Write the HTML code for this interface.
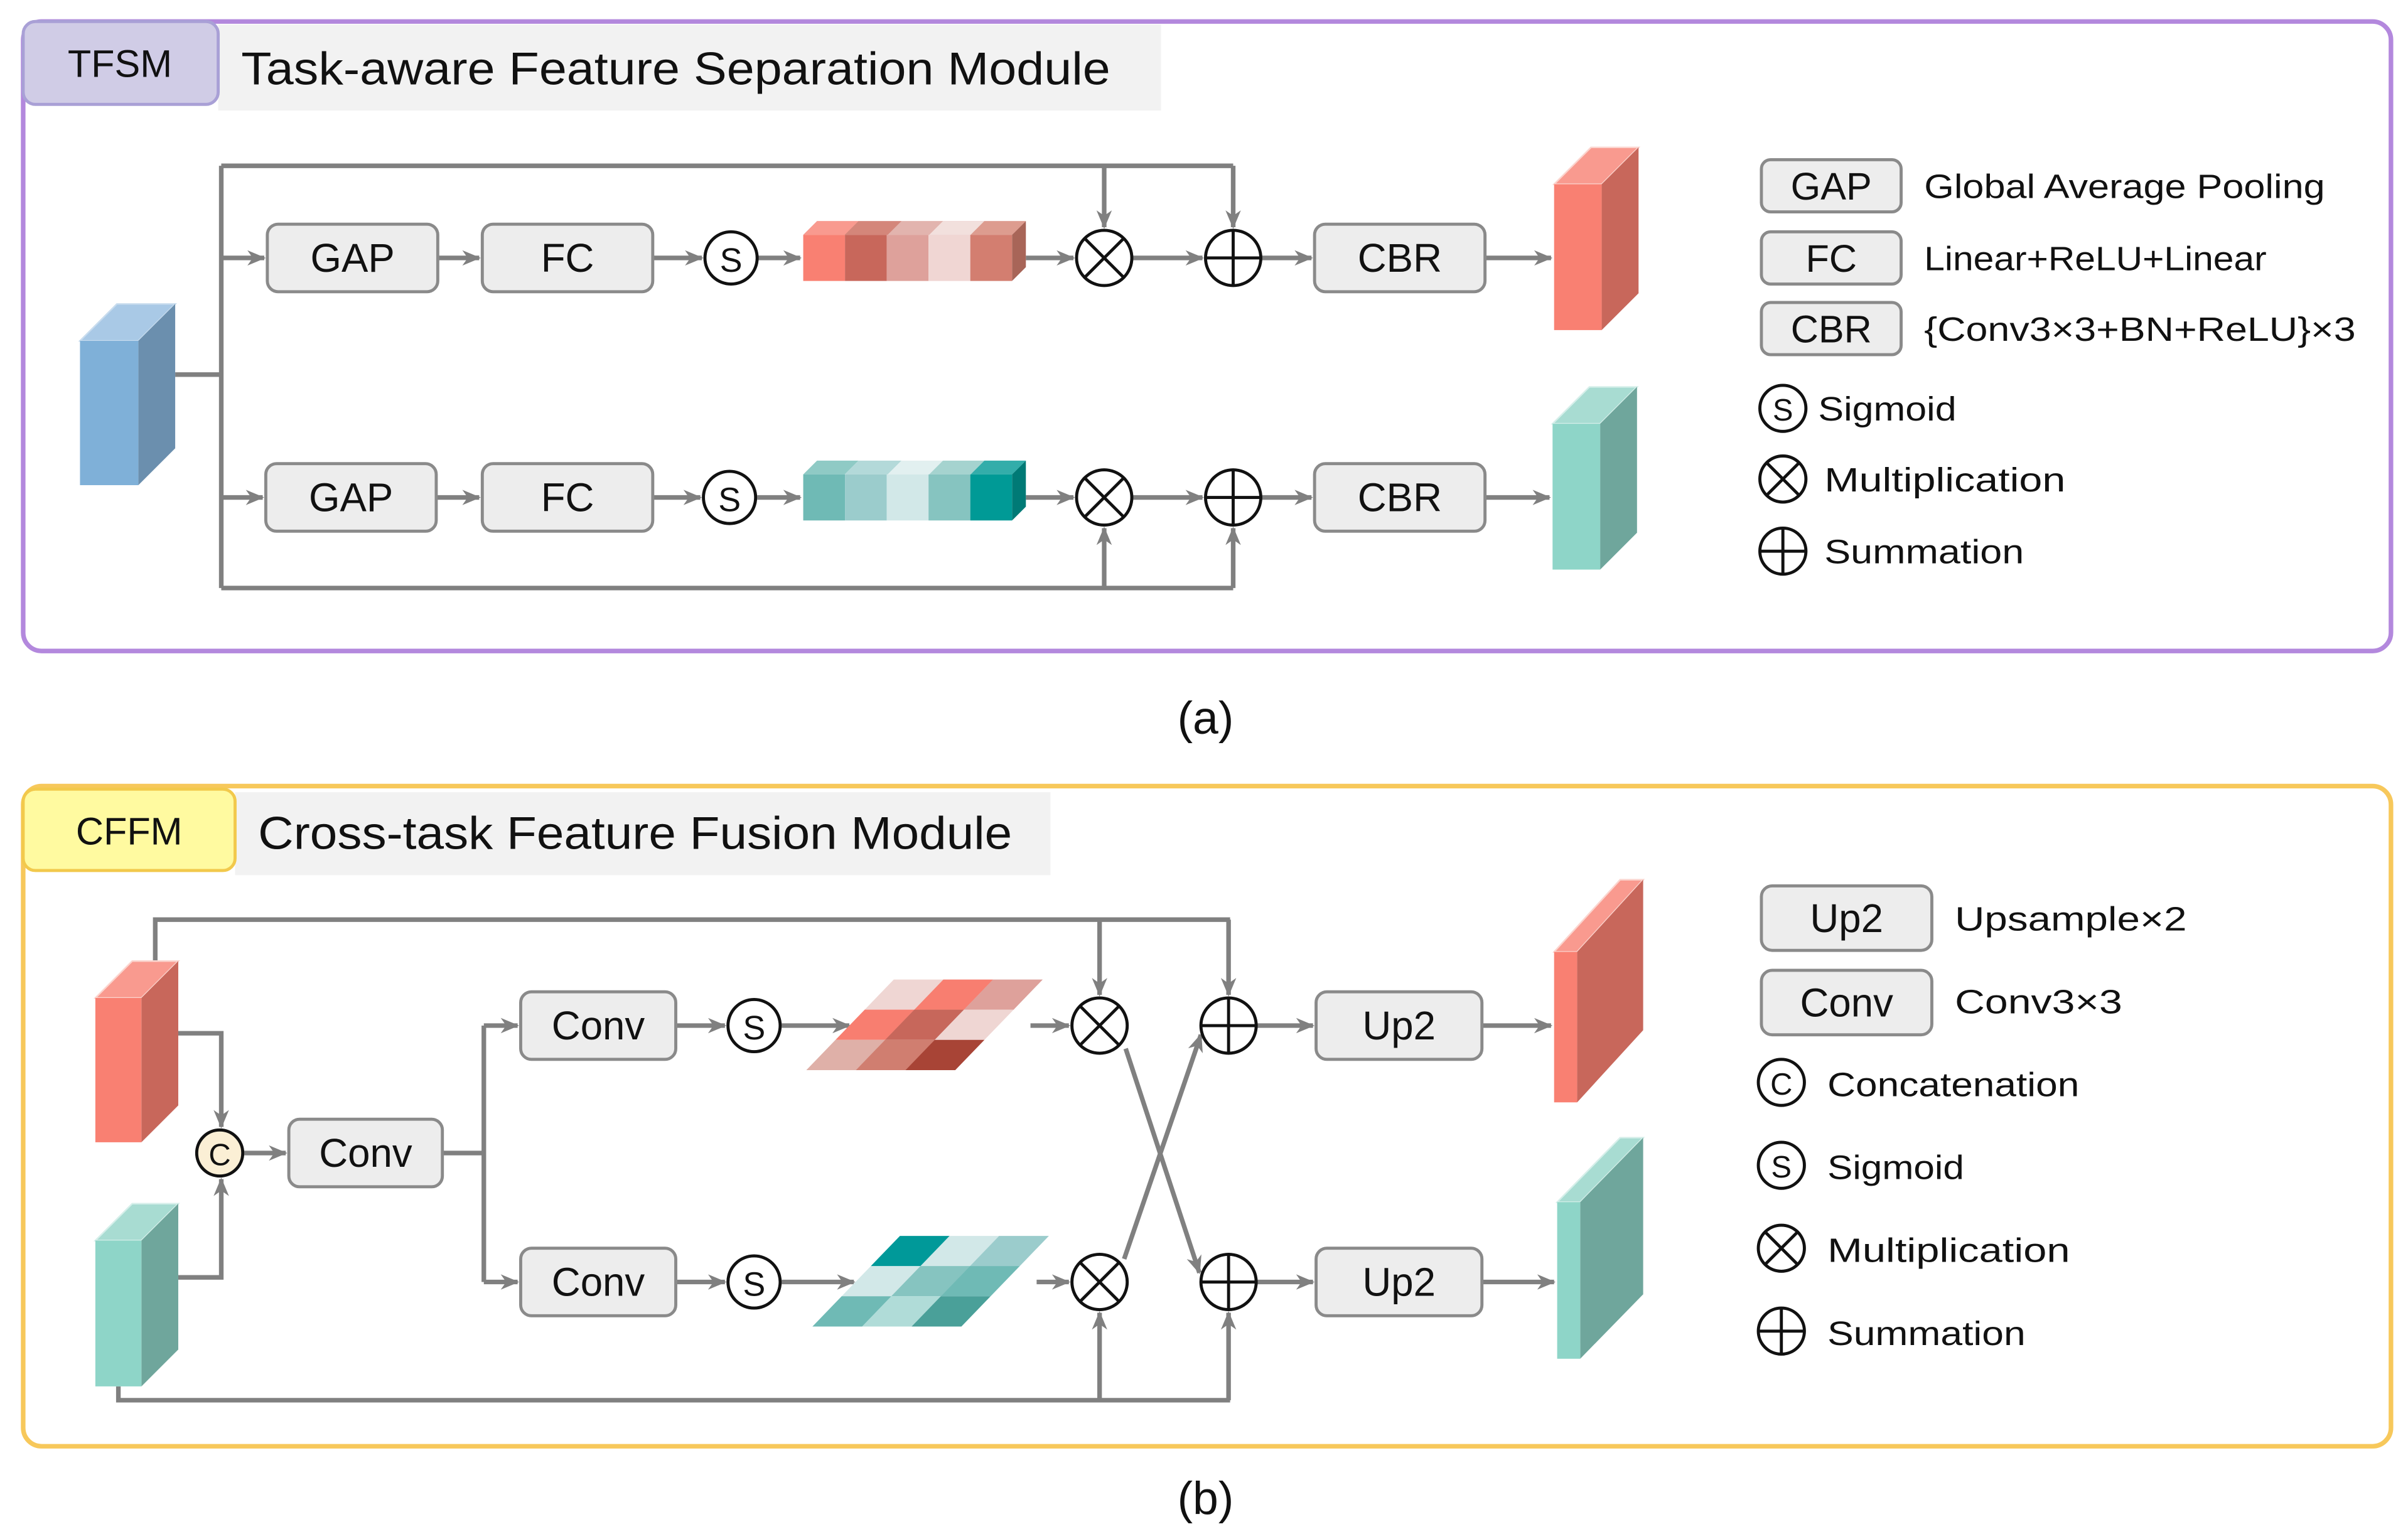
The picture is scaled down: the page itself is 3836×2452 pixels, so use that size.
<!DOCTYPE html>
<html><head><meta charset="utf-8"><style>
html,body{margin:0;padding:0;background:#fff}
svg{display:block}
text{font-family:"Liberation Sans",sans-serif;fill:#111}
</style></head><body>
<svg width="3836" height="2452" viewBox="0 0 1568 1002.4" xmlns="http://www.w3.org/2000/svg">
<defs>
<marker id="a" viewBox="0 0 12 12" refX="11" refY="6" markerWidth="12" markerHeight="12" orient="auto" markerUnits="userSpaceOnUse">
<path d="M0,1 L12,6 L0,11 L3.5,6 Z" fill="#808080"/></marker>
</defs>
<rect width="1568" height="1002.4" fill="#fff"/>

<!-- ========== Panel (a) ========== -->
<rect x="15" y="14" width="1542" height="410" rx="12" fill="none" stroke="#b388dd" stroke-width="3"/>
<rect x="142" y="16" width="614" height="56" fill="#f2f2f2"/>
<rect x="15" y="14" width="127" height="54" rx="8" fill="#d0cce6" stroke="#a9a0d6" stroke-width="2"/>
<text x="78" y="50" font-size="25" text-anchor="middle">TFSM</text>
<text x="157" y="55" font-size="30" textLength="566" lengthAdjust="spacingAndGlyphs">Task-aware Feature Separation Module</text>

<g stroke="#808080" stroke-width="3" fill="none">
<polyline points="114,244 144,244"/>
<polyline points="144,108 144,383"/>
<polyline points="144,108 803,108"/>
<line x1="719" y1="108" x2="719" y2="148" marker-end="url(#a)"/>
<line x1="803" y1="108" x2="803" y2="148" marker-end="url(#a)"/>
<line x1="144" y1="168" x2="172" y2="168" marker-end="url(#a)"/>
<line x1="285" y1="168" x2="312" y2="168" marker-end="url(#a)"/>
<line x1="425" y1="168" x2="457" y2="168" marker-end="url(#a)"/>
<line x1="493" y1="168" x2="521" y2="168" marker-end="url(#a)"/>
<line x1="668" y1="168" x2="699" y2="168" marker-end="url(#a)"/>
<line x1="737" y1="168" x2="783" y2="168" marker-end="url(#a)"/>
<line x1="821" y1="168" x2="854" y2="168" marker-end="url(#a)"/>
<line x1="967" y1="168" x2="1010" y2="168" marker-end="url(#a)"/>

<polyline points="144,383 803,383"/>
<line x1="719" y1="383" x2="719" y2="344" marker-end="url(#a)"/>
<line x1="803" y1="383" x2="803" y2="344" marker-end="url(#a)"/>
<line x1="144" y1="324" x2="171" y2="324" marker-end="url(#a)"/>
<line x1="284" y1="324" x2="312" y2="324" marker-end="url(#a)"/>
<line x1="425" y1="324" x2="456" y2="324" marker-end="url(#a)"/>
<line x1="493" y1="324" x2="521" y2="324" marker-end="url(#a)"/>
<line x1="668" y1="324" x2="699" y2="324" marker-end="url(#a)"/>
<line x1="737" y1="324" x2="783" y2="324" marker-end="url(#a)"/>
<line x1="821" y1="324" x2="854" y2="324" marker-end="url(#a)"/>
<line x1="967" y1="324" x2="1009" y2="324" marker-end="url(#a)"/>
</g>

<polygon points="52,222 76,198 114,198 90,222" fill="#a9c9e6" stroke="#c8dcee"/>
<polygon points="90,222 114,198 114,292 90,316" fill="#6b8fae"/>
<rect x="52" y="222" width="38" height="94" fill="#7fb0d8"/>

<g fill="#ededed" stroke="#8a8a8a" stroke-width="2">
<rect x="174" y="146" width="111" height="44" rx="7"/>
<rect x="314" y="146" width="111" height="44" rx="7"/>
<rect x="856" y="146" width="111" height="44" rx="7"/>
<rect x="173" y="302" width="111" height="44" rx="7"/>
<rect x="314" y="302" width="111" height="44" rx="7"/>
<rect x="856" y="302" width="111" height="44" rx="7"/>
</g>
<g font-size="26" text-anchor="middle">
<text x="229.5" y="177">GAP</text>
<text x="369.5" y="177">FC</text>
<text x="911.5" y="177">CBR</text>
<text x="228.5" y="333">GAP</text>
<text x="369.5" y="333">FC</text>
<text x="911.5" y="333">CBR</text>
</g>

<g fill="#fff" stroke="#111" stroke-width="2">
<circle cx="476" cy="168" r="17"/>
<circle cx="475" cy="324" r="17"/>
</g>
<text x="476" y="177" font-size="22" text-anchor="middle">S</text>
<text x="475" y="333" font-size="22" text-anchor="middle">S</text>

<g fill="#fff" stroke="#111" stroke-width="2">
<circle cx="719" cy="168" r="18"/><line x1="706.3" y1="155.3" x2="731.7" y2="180.7"/><line x1="731.7" y1="155.3" x2="706.3" y2="180.7"/>
<circle cx="803" cy="168" r="18"/><line x1="785" y1="168" x2="821" y2="168"/><line x1="803" y1="150" x2="803" y2="186"/>
<circle cx="719" cy="324" r="18"/><line x1="706.3" y1="311.3" x2="731.7" y2="336.7"/><line x1="731.7" y1="311.3" x2="706.3" y2="336.7"/>
<circle cx="803" cy="324" r="18"/><line x1="785" y1="324" x2="821" y2="324"/><line x1="803" y1="306" x2="803" y2="342"/>
</g>

<polygon points="523,153 532,144 668,144 659,153" fill="#e3a69f"/>
<polygon points="523,153 532,144 559,144 550,153" fill="#f99a8f"/>
<polygon points="550,153 559,144 587,144 578,153" fill="#d4867a"/>
<polygon points="578,153 587,144 614,144 605,153" fill="#e2b4ae"/>
<polygon points="605,153 614,144 641,144 632,153" fill="#f2e0dd"/>
<polygon points="632,153 641,144 668,144 659,153" fill="#dd9c8f"/>
<polygon points="659,153 668,144 668,174 659,183" fill="#a86558"/>
<rect x="523" y="153" width="27.2" height="30" fill="#f98072"/>
<rect x="550.2" y="153" width="27.2" height="30" fill="#c8675b"/>
<rect x="577.4" y="153" width="27.2" height="30" fill="#dea19b"/>
<rect x="604.6" y="153" width="27.2" height="30" fill="#f0d6d3"/>
<rect x="631.8" y="153" width="27.2" height="30" fill="#d37e70"/>

<polygon points="523,309 532,300 559,300 550,309" fill="#8fcac5"/>
<polygon points="550,309 559,300 587,300 578,309" fill="#b3d9d9"/>
<polygon points="578,309 587,300 614,300 605,309" fill="#e2f0f0"/>
<polygon points="605,309 614,300 641,300 632,309" fill="#a5d3cf"/>
<polygon points="632,309 641,300 668,300 659,309" fill="#33adaa"/>
<polygon points="659,309 668,300 668,330 659,339" fill="#007a76"/>
<rect x="523" y="309" width="27.2" height="30" fill="#6fbab5"/>
<rect x="550.2" y="309" width="27.2" height="30" fill="#9bcccc"/>
<rect x="577.4" y="309" width="27.2" height="30" fill="#d2e8e8"/>
<rect x="604.6" y="309" width="27.2" height="30" fill="#86c4c0"/>
<rect x="631.8" y="309" width="27.2" height="30" fill="#009a96"/>

<polygon points="1012,120 1036,96 1067,96 1043,120" fill="#f99a8f" stroke="#fbd5cf"/>
<polygon points="1043,120 1067,96 1067,191 1043,215" fill="#c8675b"/>
<rect x="1012" y="120" width="31" height="95" fill="#f98072"/>
<polygon points="1011,276 1035,252 1066,252 1042,276" fill="#a8dcd2" stroke="#d6efea"/>
<polygon points="1042,276 1066,252 1066,347 1042,371" fill="#6fa69c"/>
<rect x="1011" y="276" width="31" height="95" fill="#8ed5c8"/>

<g fill="#ededed" stroke="#8a8a8a" stroke-width="2">
<rect x="1147" y="104" width="91" height="34" rx="6"/>
<rect x="1147" y="151" width="91" height="34" rx="6"/>
<rect x="1147" y="197" width="91" height="34" rx="6"/>
</g>
<g font-size="25" text-anchor="middle">
<text x="1192.5" y="130">GAP</text>
<text x="1192.5" y="177">FC</text>
<text x="1192.5" y="223">CBR</text>
</g>
<g font-size="22">
<text x="1253" y="129" textLength="261" lengthAdjust="spacingAndGlyphs">Global Average Pooling</text>
<text x="1253" y="176" textLength="223" lengthAdjust="spacingAndGlyphs">Linear+ReLU+Linear</text>
<text x="1253" y="222" textLength="281" lengthAdjust="spacingAndGlyphs">{Conv3×3+BN+ReLU}×3</text>
<text x="1184" y="274" textLength="90" lengthAdjust="spacingAndGlyphs">Sigmoid</text>
<text x="1188" y="320" textLength="157" lengthAdjust="spacingAndGlyphs">Multiplication</text>
<text x="1188" y="367" textLength="130" lengthAdjust="spacingAndGlyphs">Summation</text>
</g>
<g fill="none" stroke="#111" stroke-width="2">
<circle cx="1161" cy="266" r="15"/>
<circle cx="1161" cy="312" r="15"/><line x1="1150.4" y1="301.4" x2="1171.6" y2="322.6"/><line x1="1171.6" y1="301.4" x2="1150.4" y2="322.6"/>
<circle cx="1161" cy="359" r="15"/><line x1="1146" y1="359" x2="1176" y2="359"/><line x1="1161" y1="344" x2="1161" y2="374"/>
</g>
<text x="1161" y="274" font-size="20" text-anchor="middle">S</text>

<text x="785" y="478" font-size="30" text-anchor="middle">(a)</text>

<!-- ========== Panel (b) ========== -->
<rect x="15" y="512" width="1542" height="430" rx="12" fill="none" stroke="#f7c85b" stroke-width="3"/>
<rect x="153" y="516" width="531" height="54" fill="#f2f2f2"/>
<rect x="15" y="514" width="138" height="53" rx="8" fill="#fffaa0" stroke="#f2c94c" stroke-width="2"/>
<text x="84" y="550" font-size="25" text-anchor="middle">CFFM</text>
<text x="168" y="553" font-size="30" textLength="491" lengthAdjust="spacingAndGlyphs">Cross-task Feature Fusion Module</text>

<g stroke="#808080" stroke-width="3" fill="none">
<polyline points="101,626 101,599 801,599"/>
<line x1="716" y1="599" x2="716" y2="648" marker-end="url(#a)"/>
<line x1="800" y1="599" x2="800" y2="648" marker-end="url(#a)"/>
<polyline points="116,673 144,673 144,734" marker-end="url(#a)"/>
<polyline points="116,832 144,832 144,768" marker-end="url(#a)"/>
<line x1="159" y1="751" x2="186" y2="751" marker-end="url(#a)"/>
<polyline points="288,751 315,751"/>
<polyline points="315,668 315,835"/>
<line x1="315" y1="668" x2="337" y2="668" marker-end="url(#a)"/>
<line x1="315" y1="835" x2="337" y2="835" marker-end="url(#a)"/>
<line x1="440" y1="668" x2="472" y2="668" marker-end="url(#a)"/>
<line x1="440" y1="835" x2="472" y2="835" marker-end="url(#a)"/>
<line x1="509" y1="668" x2="553" y2="668" marker-end="url(#a)"/>
<line x1="509" y1="835" x2="556" y2="835" marker-end="url(#a)"/>
<line x1="671" y1="668" x2="696" y2="668" marker-end="url(#a)"/>
<line x1="675" y1="835" x2="696" y2="835" marker-end="url(#a)"/>
<line x1="733" y1="683" x2="781" y2="829" marker-end="url(#a)"/>
<line x1="732" y1="820" x2="782" y2="674" marker-end="url(#a)"/>
<line x1="818" y1="668" x2="855" y2="668" marker-end="url(#a)"/>
<line x1="818" y1="835" x2="855" y2="835" marker-end="url(#a)"/>
<line x1="965" y1="668" x2="1010" y2="668" marker-end="url(#a)"/>
<line x1="965" y1="835" x2="1012" y2="835" marker-end="url(#a)"/>
<polyline points="77,903 77,912 801,912"/>
<line x1="716" y1="912" x2="716" y2="855" marker-end="url(#a)"/>
<line x1="800" y1="912" x2="800" y2="855" marker-end="url(#a)"/>
</g>

<polygon points="62,650 86,626 116,626 92,650" fill="#f99a8f" stroke="#fbd5cf"/>
<polygon points="92,650 116,626 116,720 92,744" fill="#c8675b"/>
<rect x="62" y="650" width="30" height="94" fill="#f98072"/>
<polygon points="62,808 86,784 116,784 92,808" fill="#a8dcd2" stroke="#d6efea"/>
<polygon points="92,808 116,784 116,879 92,903" fill="#6fa69c"/>
<rect x="62" y="808" width="30" height="95" fill="#8ed5c8"/>

<circle cx="143" cy="751" r="15" fill="#fbefd5" stroke="#111" stroke-width="2"/>
<text x="143" y="759" font-size="20" text-anchor="middle">C</text>

<g fill="#ededed" stroke="#8a8a8a" stroke-width="2">
<rect x="188" y="729" width="100" height="44" rx="7"/>
<rect x="339" y="646" width="101" height="44" rx="7"/>
<rect x="339" y="813" width="101" height="44" rx="7"/>
<rect x="857" y="646" width="108" height="44" rx="7"/>
<rect x="857" y="813" width="108" height="44" rx="7"/>
</g>
<g font-size="26" text-anchor="middle">
<text x="238" y="760">Conv</text>
<text x="389.5" y="677">Conv</text>
<text x="389.5" y="844">Conv</text>
<text x="911" y="677">Up2</text>
<text x="911" y="844">Up2</text>
</g>

<g fill="#fff" stroke="#111" stroke-width="2">
<circle cx="491" cy="668" r="17"/>
<circle cx="491" cy="835" r="17"/>
<circle cx="716" cy="668" r="18"/><line x1="703.3" y1="655.3" x2="728.7" y2="680.7"/><line x1="728.7" y1="655.3" x2="703.3" y2="680.7"/>
<circle cx="716" cy="835" r="18"/><line x1="703.3" y1="822.3" x2="728.7" y2="847.7"/><line x1="728.7" y1="822.3" x2="703.3" y2="847.7"/>
<circle cx="800" cy="668" r="18"/><line x1="782" y1="668" x2="818" y2="668"/><line x1="800" y1="650" x2="800" y2="686"/>
<circle cx="800" cy="835" r="18"/><line x1="782" y1="835" x2="818" y2="835"/><line x1="800" y1="817" x2="800" y2="853"/>
</g>
<text x="491" y="677" font-size="22" text-anchor="middle">S</text>
<text x="491" y="844" font-size="22" text-anchor="middle">S</text>

<g transform="translate(525,697) skewX(-44)">
<rect x="0" y="-59" width="32.4" height="19.7" fill="#efd6d3"/>
<rect x="32.3" y="-59" width="32.4" height="19.7" fill="#f87e70"/>
<rect x="64.6" y="-59" width="32.4" height="19.7" fill="#dea19b"/>
<rect x="0" y="-39.4" width="32.4" height="19.7" fill="#f87e70"/>
<rect x="32.3" y="-39.4" width="32.4" height="19.7" fill="#c7675b"/>
<rect x="64.6" y="-39.4" width="32.4" height="19.7" fill="#efd6d3"/>
<rect x="0" y="-19.7" width="32.4" height="19.7" fill="#dfb0a8"/>
<rect x="32.3" y="-19.7" width="32.4" height="19.7" fill="#d07e70"/>
<rect x="64.6" y="-19.7" width="32.4" height="19.7" fill="#a84436"/>
</g>
<g transform="translate(529,864) skewX(-44)">
<rect x="0" y="-59" width="32.4" height="19.7" fill="#009999"/>
<rect x="32.3" y="-59" width="32.4" height="19.7" fill="#d2e8e8"/>
<rect x="64.6" y="-59" width="32.4" height="19.7" fill="#9bcccc"/>
<rect x="0" y="-39.4" width="32.4" height="19.7" fill="#d2e8e8"/>
<rect x="32.3" y="-39.4" width="32.4" height="19.7" fill="#86c4c0"/>
<rect x="64.6" y="-39.4" width="32.4" height="19.7" fill="#6fbab5"/>
<rect x="0" y="-19.7" width="32.4" height="19.7" fill="#6fbab5"/>
<rect x="32.3" y="-19.7" width="32.4" height="19.7" fill="#b0dcd8"/>
<rect x="64.6" y="-19.7" width="32.4" height="19.7" fill="#4aa099"/>
</g>

<polygon points="1012,620 1055,573 1070,573 1027,620" fill="#f99a8f" stroke="#fbd5cf"/>
<polygon points="1027,620 1070,573 1070,671 1027,718" fill="#c8675b"/>
<rect x="1012" y="620" width="15" height="98" fill="#f98072"/>
<polygon points="1014,783 1055,741 1070,741 1029,783" fill="#a8dcd2" stroke="#d6efea"/>
<polygon points="1029,783 1070,741 1070,843 1029,885" fill="#6fa69c"/>
<rect x="1014" y="783" width="15" height="102" fill="#8ed5c8"/>

<g fill="#ededed" stroke="#8a8a8a" stroke-width="2">
<rect x="1147" y="577" width="111" height="42" rx="7"/>
<rect x="1147" y="632" width="111" height="42" rx="7"/>
</g>
<g font-size="26" text-anchor="middle">
<text x="1202.5" y="607">Up2</text>
<text x="1202.5" y="662">Conv</text>
</g>
<g font-size="22">
<text x="1273" y="606" textLength="151" lengthAdjust="spacingAndGlyphs">Upsample×2</text>
<text x="1273" y="660" textLength="109" lengthAdjust="spacingAndGlyphs">Conv3×3</text>
<text x="1190" y="714" textLength="164" lengthAdjust="spacingAndGlyphs">Concatenation</text>
<text x="1190" y="768" textLength="89" lengthAdjust="spacingAndGlyphs">Sigmoid</text>
<text x="1190" y="822" textLength="158" lengthAdjust="spacingAndGlyphs">Multiplication</text>
<text x="1190" y="876" textLength="129" lengthAdjust="spacingAndGlyphs">Summation</text>
</g>
<g fill="none" stroke="#111" stroke-width="2">
<circle cx="1160" cy="705" r="15"/>
<circle cx="1160" cy="759" r="15"/>
<circle cx="1160" cy="813" r="15"/><line x1="1149.4" y1="802.4" x2="1170.6" y2="823.6"/><line x1="1170.6" y1="802.4" x2="1149.4" y2="823.6"/>
<circle cx="1160" cy="867" r="15"/><line x1="1145" y1="867" x2="1175" y2="867"/><line x1="1160" y1="852" x2="1160" y2="882"/>
</g>
<text x="1160" y="713" font-size="20" text-anchor="middle">C</text>
<text x="1160" y="767" font-size="20" text-anchor="middle">S</text>

<text x="785" y="986" font-size="30" text-anchor="middle">(b)</text>
</svg>
</body></html>
